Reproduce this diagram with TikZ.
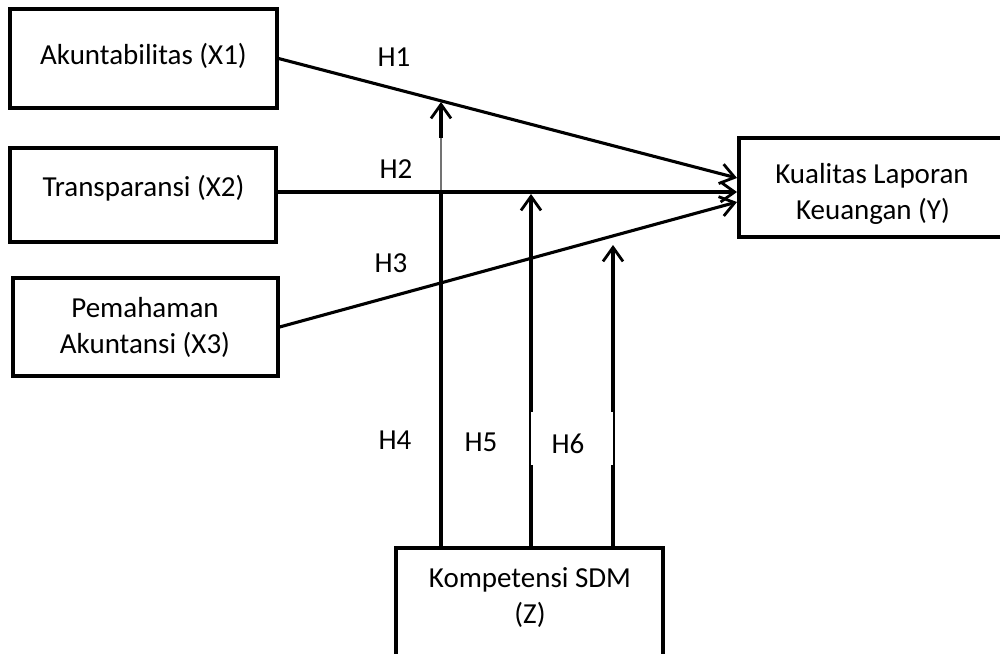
\documentclass[tikz,border=0pt]{standalone}
\usepackage{fontspec}
\setmainfont{Carlito}
\usetikzlibrary{arrows.meta,calc}
\tikzset{
  box/.style={draw=black, line width=3.2pt, rectangle, inner sep=0pt, fill=white},
  txt/.style={font=\fontsize{29}{36}\selectfont, anchor=base, inner sep=0pt},
  lbl/.style={font=\fontsize{29}{36}\selectfont, anchor=center, inner sep=0pt},
  conn/.style={line width=3.1pt, -{Straight Barb[length=14pt, width=20pt, line width=2.8pt]}},
  sliver/.style={line width=1.1pt, draw=black!55},
  cover/.style={line width=4pt, draw=white}
}
\begin{document}
\begin{tikzpicture}[x=1pt, y=-1pt]
\useasboundingbox (0,0) rectangle (1000,653);
\clip (0,0) rectangle (1000,653);
% boxes
\node[box, minimum width=267pt, minimum height=99pt] (x1) at (143.5,58.5) {};
\node[box, minimum width=266pt, minimum height=94pt] (x2) at (143,195) {};
\node[box, minimum width=265pt, minimum height=98pt] (x3) at (145.5,327) {};
\node[box, minimum width=300pt, minimum height=99pt] (y) at (889,187.5) {};
\node[box, minimum width=267pt, minimum height=130pt] (z) at (529.5,613) {};
% box texts
\node[txt] (tx1) at (143.5,64) {Akuntabilitas (X1)};
\node[txt] (tx2) at (143.5,196) {Transparansi (X2)};
\node[txt] (tx3a) at (145,317) {Pemahaman};
\node[txt] (tx3b) at (145,353) {Akuntansi (X3)};
\node[txt] (tya) at (872,183) {Kualitas Laporan};
\node[txt] (tyb) at (873,219) {Keuangan (Y)};
\node[txt] (tza) at (530,587) {Kompetensi SDM};
\node[txt] (tzb) at (530,623) {(Z)};
% coordinates
\coordinate (t1) at (737,178);
\coordinate (t2) at (737,192);
\coordinate (t3) at (737,202);
\coordinate (c4) at (441,102);
\coordinate (c5) at (531,194);
\coordinate (c6) at (613,245);
% main connectors
\draw[conn] (x1.east) -- (t1);
\draw[conn] (x2.east |- t2) -- (t2);
\draw[conn] (x3.east) -- (t3);
% moderating connectors
\draw[conn] (z.north -| c4) -- (c4);
\draw[conn] (z.north -| c5) -- (c5);
\draw[conn] (z.north -| c6) -- (c6);
% thin slivers where label boxes overlap the lines
\draw[cover] (441,138) -- (441,190);
\draw[sliver] (441,138) -- (441,190);
\draw[cover] (531,412) -- (531,465);
\draw[line width=1.1pt] (530,412) -- (530,465);
\draw[cover] (613,412) -- (613,465);
\draw[line width=1.4pt] (614,412) -- (614,465);
% hypothesis labels
\node[lbl] (h1) at (394,57) {H1};
\node[lbl] (h2) at (396,169) {H2};
\node[lbl] (h3) at (391,263) {H3};
\node[lbl] (h4) at (395,440) {H4};
\node[lbl] (h5) at (481,442) {H5};
\node[lbl] (h6) at (568,444) {H6};
\end{tikzpicture}
\end{document}
